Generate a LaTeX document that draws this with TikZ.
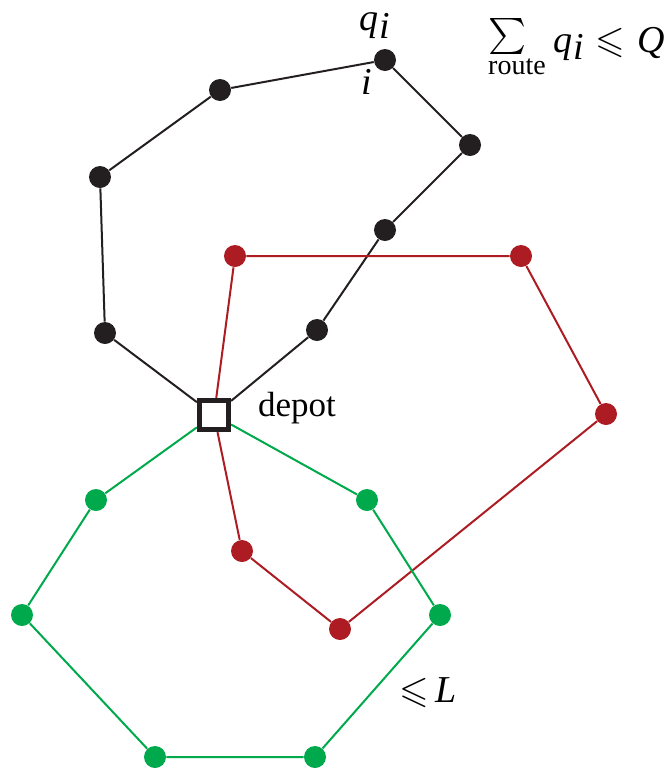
\documentclass[tikz,border=0pt]{standalone}
\usepackage{amsmath,amssymb}
\usepackage{fontspec}
\setmainfont{Liberation Serif}
\definecolor{ink}{RGB}{35,31,32}
\definecolor{rred}{RGB}{172,28,34}
\definecolor{rgreen}{RGB}{0,170,76}
\newcommand{\qsub}{\textit{q}\kern0.5pt\raisebox{-0.45ex}{\textit{i}}}
\tikzset{
  cust/.style={circle,fill=#1,inner sep=0pt,minimum size=11pt},
  route/.style={draw=#1,line width=1pt},
  lbl/.style={font=\fontsize{17.5}{21}\selectfont,inner sep=0pt},
  depotbox/.style={draw=ink,line width=2.6pt,minimum size=14.5pt,inner sep=0pt,fill=white},
}
\begin{document}
\begin{tikzpicture}[x=0.5pt,y=-0.5pt]
\useasboundingbox (0,0) rectangle (670,772);
% depot
\node[depotbox] (d) at (214,415) {};
% black route
\node[cust=ink] (b1) at (105,333) {};
\node[cust=ink] (b2) at (100,177) {};
\node[cust=ink] (b3) at (220,90) {};
\node[cust=ink] (b4) at (385,60) {};
\node[cust=ink] (b5) at (470,145) {};
\node[cust=ink] (b6) at (385,230) {};
\node[cust=ink] (b7) at (317,330) {};
% red route
\node[cust=rred] (r1) at (235,256) {};
\node[cust=rred] (r2) at (521,256) {};
\node[cust=rred] (r3) at (606,414) {};
\node[cust=rred] (r4) at (340,629) {};
\node[cust=rred] (r5) at (242,551) {};
% green route
\node[cust=rgreen] (g1) at (96,500) {};
\node[cust=rgreen] (g2) at (22,615) {};
\node[cust=rgreen] (g3) at (155,757) {};
\node[cust=rgreen] (g4) at (315,757) {};
\node[cust=rgreen] (g5) at (440,615) {};
\node[cust=rgreen] (g6) at (367,500) {};
\draw[route=ink] (d) -- (b1) -- (b2) -- (b3) -- (b4) -- (b5) -- (b6) -- (b7) -- (d);
\draw[route=rred] (d) -- (r1) -- (r2) -- (r3) -- (r4) -- (r5) -- (d);
\draw[route=rgreen] (d) -- (g1) -- (g2) -- (g3) -- (g4) -- (g5) -- (g6) -- (d);
% redraw depot on top
\node[depotbox] at (214,415) {};
% labels
\node[lbl,font=\fontsize{19}{22}\selectfont] (qi) at (375,26) {\qsub};
\node[lbl,font=\fontsize{19}{22}\selectfont] (ii) at (367,82) {\textit{i}};
\node[lbl] (dep) at (297,408) {depot};
\node[lbl,font=\fontsize{18}{20}\selectfont] (sig) at (507,36) {$\textstyle\sum$};
\node[lbl,font=\fontsize{14}{17}\selectfont] (rt) at (517,67) {route};
\node[lbl,font=\fontsize{19}{22}\selectfont,anchor=base west] (sumr) at (553,52) {\qsub\hspace{6pt}$\leqslant$\hspace{6pt}\textit{Q}};
\node[lbl,font=\fontsize{19}{22}\selectfont] (len) at (428,693) {$\leqslant$\,\textit{L}};
\end{tikzpicture}
\end{document}
